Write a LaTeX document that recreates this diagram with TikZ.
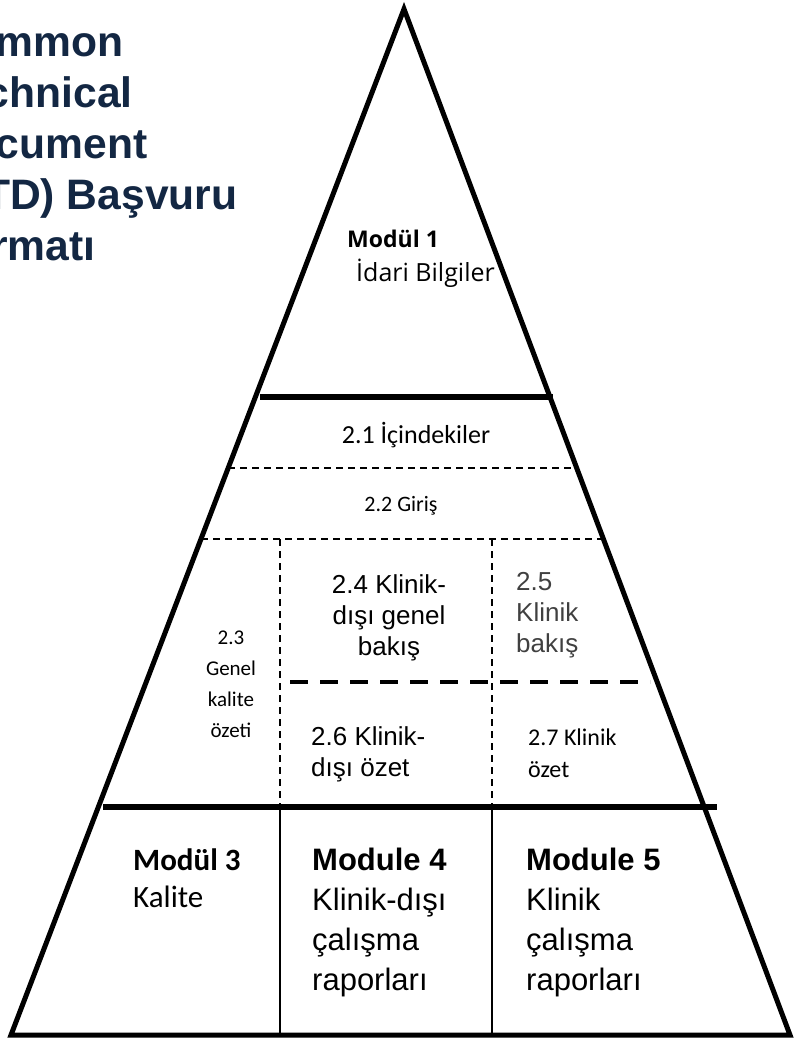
\documentclass[tikz,border=0pt]{standalone}
\usepackage{fontspec}
\setmainfont{Liberation Sans}
\newfontfamily\calibrifont{Carlito}
\newfontfamily\segoefont{Open Sans}
\usepackage{xcolor}
\definecolor{ctdnavy}{RGB}{19,39,67}
\definecolor{clingrey}{RGB}{64,64,64}

\begin{document}
\begin{tikzpicture}[x=1pt, y=-1pt, inner sep=0pt,
  outline/.style={line width=5pt, line join=miter},
  band/.style={line width=5.5pt},
  finedash/.style={line width=1.6pt, dash pattern=on 7pt off 5pt},
  bolddash/.style={line width=4pt, dash pattern=on 18pt off 12pt},
  divider/.style={line width=1.3pt},
  heading/.style={font=\bfseries\fontsize{42.6}{51}\selectfont, text=ctdnavy, align=left},
  arial/.style={font=\fontsize{26}{31}\selectfont},
  modtext/.style={font=\fontsize{31}{40}\selectfont, align=left}]
  \clip (0,0) rectangle (796,1040);

  % Define corners
  \coordinate (apex) at (404,9);
  \coordinate (baseL) at (11,1035);
  \coordinate (baseR) at (790,1035);

  % Module 2 sections
  \draw[finedash] (228,468) -- (577,468);
  \draw[finedash] (201,539) -- (603,539);
  \draw[finedash] (280,539) -- (280,807);
  \draw[finedash] (492,539) -- (492,807);
  \draw[bolddash] (290,682) -- (650,682);

  % Modules 3 to 5
  \draw[divider] (280,807) -- (280,1035);
  \draw[divider] (492,807) -- (492,1035);

  % Module borders
  \draw[band] (260,397) -- (553,397);
  \draw[band] (103,807) -- (717,807);
  \draw[outline] (apex) -- (baseR) -- (baseL) -- cycle;

  % Title (multi-line nodes sit on their last line)
  \node[heading, anchor=base west] (title) at (-61,261)
    {Common\\Technical\\Document\\(CTD) Başvuru\\Formatı};

  % Module 1
  \node[anchor=base west, font=\segoefont\bfseries\fontsize{23}{28}\selectfont] (mod1) at (347,248) {Modül 1};
  \node[anchor=base west, font=\segoefont\fontsize{25}{30}\selectfont] (mod1sub) at (356,281) {İdari Bilgiler};

  % Module 2
  \node[anchor=base, font=\calibrifont\fontsize{26}{31}\selectfont] (toc) at (416,443) {2.1 İçindekiler};
  \node[anchor=base, font=\calibrifont\fontsize{22}{26}\selectfont] (intro) at (401,511) {2.2 Giriş};
  \node[anchor=base, align=center, font=\calibrifont\fontsize{21}{31}\selectfont] (qos) at (231,737) {2.3\\Genel\\kalite\\özeti};
  \node[arial, anchor=base, align=center] (nonclinov) at (389,655) {2.4 Klinik-\\dışı genel\\bakış};
  \node[arial, anchor=base west, align=left, text=clingrey] (clinov) at (516,652) {2.5\\Klinik\\bakış};
  \node[arial, anchor=base west, align=left] (nonclinsum) at (311,776) {2.6 Klinik-\\dışı özet};
  \node[anchor=base west, align=left, font=\calibrifont\fontsize{24}{32}\selectfont] (clinsum) at (528,777) {2.7 Klinik\\özet};

  % Modules 3 to 5
  \node[anchor=base west, align=left, font=\calibrifont\fontsize{31}{37}\selectfont] (mod3) at (133,907) {\textbf{Modül 3}\\Kalite};
  \node[modtext, anchor=base west] (mod4) at (312,990) {\textbf{Module 4}\\Klinik-dışı\\çalışma\\raporları};
  \node[modtext, anchor=base west] (mod5) at (526,990) {\textbf{Module 5}\\Klinik\\çalışma\\raporları};
\end{tikzpicture}
\end{document}
